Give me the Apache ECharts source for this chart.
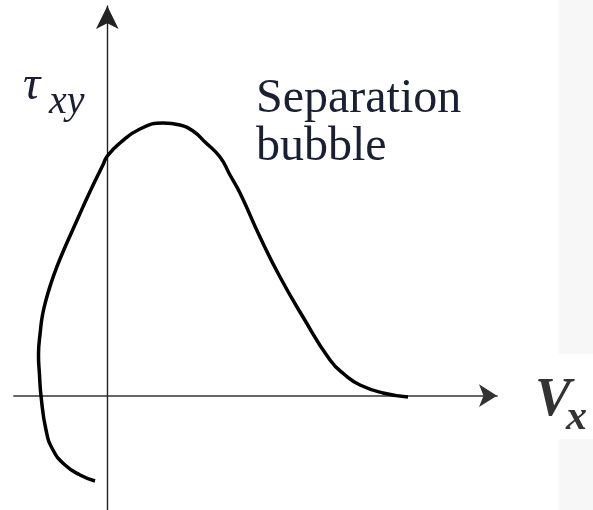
<!DOCTYPE html>
<html><head><meta charset="utf-8">
<script src="https://cdn.jsdelivr.net/npm/echarts@6/dist/echarts.min.js"></script>
<style>html,body{margin:0;padding:0;background:#fff}#c{width:593px;height:510px}</style>
</head><body><div id="c"></div>
<script>
// Shear stress profile tau_xy vs V_x (arbitrary units)
const curveX = [-1.23,-2.73,-4.23,-5.43,-6.13,-6.63,-6.78,-6.88,-6.68,-6.48,-6.13,-5.62,-5.05,-4.35,-3.6,-2.84,-2.12,-1.18,-0.44,0.0,1.27,3.27,5.57,7.27,8.57,9.77,11.27,12.27,13.27,15.27,17.27,19.57,22.27,23.77,25.27,27.57,30.07];
const curveY = [-8.53,-7.93,-6.93,-5.43,-3.43,0.0,2.07,4.07,6.57,8.07,9.57,11.27,12.87,14.57,16.27,17.97,19.57,21.57,23.07,23.97,25.27,26.67,27.27,27.07,26.47,25.37,23.87,22.07,20.27,15.87,11.87,7.87,3.57,2.07,1.07,0.27,-0.13];
const xRange = [-9.33, 38.97];
const yRange = [-11.43, 38.97];
const yLabel = 'τ', yLabelSub = 'xy';
const xLabel = 'V', xLabelSub = 'x';
const noteLines = ['Separation', 'bubble'];

const serif = 'Liberation Serif';
const data = curveX.map((x, i) => [x, curveY[i]]);
const chart = echarts.init(document.getElementById('c'));
const axisCommon = {
  type: 'value',
  axisTick: {show: false}, axisLabel: {show: false}, splitLine: {show: false}
};
function txt(x, y, text, size, style, weight, fill) {
  return {type: 'text', x: x, y: y, style: {text: text, fontFamily: serif, fontSize: size,
    fontStyle: style, fontWeight: weight, fill: fill, verticalAlign: 'top'}};
}
chart.setOption({
  animation: false,
  backgroundColor: '#fff',
  grid: {left: 14, right: 96, top: 6, bottom: 0},
  xAxis: Object.assign({}, axisCommon, {
    min: xRange[0], max: xRange[1],
    axisLine: {show: true, onZero: true, symbol: ['none', 'arrow'], symbolSize: [17, 18],
      lineStyle: {color: '#333', width: 1.7}}
  }),
  yAxis: Object.assign({}, axisCommon, {
    min: yRange[0], max: yRange[1],
    axisLine: {show: true, onZero: true, symbol: ['none', 'arrow'], symbolSize: [17, 23],
      lineStyle: {color: '#222', width: 1.4}}
  }),
  series: [{
    type: 'line', data: data, smooth: 0.5, symbol: 'none',
    lineStyle: {color: '#000', width: 3.5}, z: 3
  }],
  graphic: [
    {type: 'rect', z: -10, shape: {x: 559, y: 0, width: 34, height: 354}, style: {fill: '#f7f7f7'}},
    {type: 'rect', z: -10, shape: {x: 559, y: 439, width: 34, height: 71}, style: {fill: '#f7f7f7'}},
    txt(23, 62, yLabel, 48, 'italic', 'normal', '#1a1f33'),
    txt(49, 82, yLabelSub, 40, 'italic', 'normal', '#1a1f33'),
    txt(256, 75, noteLines[0], 48, 'normal', 'normal', '#1a1f33'),
    txt(256, 123, noteLines[1], 48, 'normal', 'normal', '#1a1f33'),
    txt(535, 374, xLabel, 54, 'italic', 'bold', '#333'),
    txt(566, 397, xLabelSub, 42, 'italic', 'bold', '#333')
  ]
});
</script>
</body></html>
